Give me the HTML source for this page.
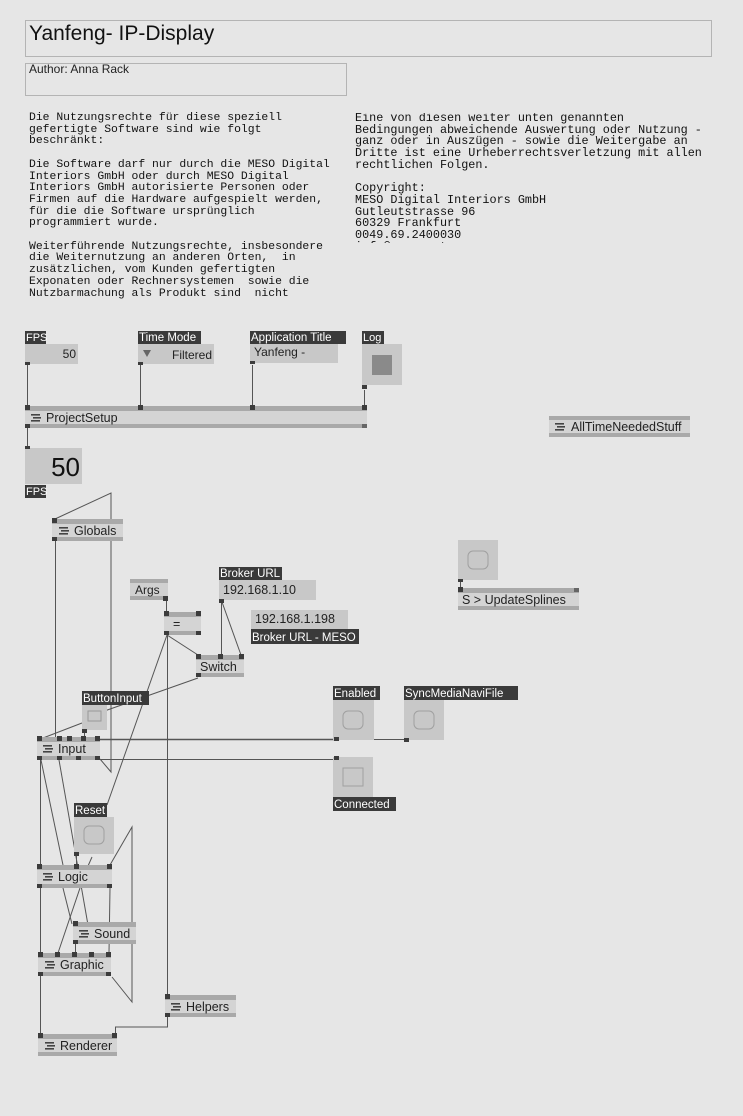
<!DOCTYPE html>
<html><head><meta charset="utf-8"><style>
html,body{margin:0;padding:0;background:#e6e6e6;}
body{width:743px;height:1116px;position:relative;overflow:hidden;font-family:"Liberation Sans",sans-serif;}
pre{position:absolute;margin:0;font-family:"Liberation Mono",monospace;font-size:11.4px;line-height:11.7px;color:#111;}
svg{position:absolute;left:0;top:0;}
</style></head><body>
<svg width="743" height="1116" viewBox="0 0 743 1116" font-family="Liberation Sans, sans-serif">
<defs>
<g id="ic"><rect x="0" y="0" width="9" height="1.6" fill="#444"/><rect x="2" y="3" width="8" height="1.6" fill="#444"/><rect x="0" y="6" width="9" height="1.6" fill="#444"/></g>
</defs>
<!-- title -->
<rect x="25.5" y="20.5" width="686" height="36" fill="#e6e6e6" stroke="#b4b4b4"/>
<text x="29" y="40" font-size="21" fill="#111">Yanfeng- IP-Display</text>
<rect x="25.5" y="63.5" width="321" height="32" fill="#e6e6e6" stroke="#b4b4b4"/>
<text x="29" y="73" font-size="12" fill="#222">Author: Anna Rack</text>

<!-- wires -->
<g stroke="#555" stroke-width="1" fill="none">
<line x1="27.5" y1="365" x2="27.5" y2="406"/>
<line x1="140.5" y1="365" x2="140.5" y2="406"/>
<line x1="252.5" y1="365" x2="252.5" y2="406"/>
<line x1="364.5" y1="390" x2="364.5" y2="406"/>
<line x1="27.5" y1="428" x2="27.5" y2="448"/>
<polyline points="55,519 111,493 111,772 100,759"/>
<line x1="55.5" y1="541" x2="55.5" y2="738"/>
<line x1="166.5" y1="600" x2="166.5" y2="612"/>
<line x1="221.5" y1="600" x2="221.5" y2="655"/>
<line x1="222" y1="602" x2="241" y2="655"/>
<line x1="167" y1="635" x2="198" y2="655"/>
<line x1="167" y1="635" x2="107" y2="805"/>
<line x1="167.5" y1="635" x2="167.5" y2="995"/>
<line x1="198" y1="678" x2="96" y2="714"/>
<line x1="82" y1="723" x2="43" y2="738"/>
<line x1="84.5" y1="730" x2="84.5" y2="737"/>
<line x1="100" y1="739.5" x2="336" y2="739.5" stroke-width="1.5"/>
<line x1="374" y1="739.5" x2="406" y2="739.5"/>
<line x1="100" y1="759.5" x2="336" y2="759.5"/>
<line x1="40.5" y1="760" x2="40.5" y2="865"/>
<line x1="41" y1="760" x2="63" y2="865"/>
<line x1="59" y1="760" x2="88" y2="925"/>
<line x1="63" y1="888" x2="72" y2="924"/>
<line x1="76.5" y1="853" x2="76.5" y2="865"/>
<line x1="92" y1="857" x2="88" y2="866"/>
<polyline points="110,865 132,827 132,1002 112,977"/>
<line x1="110" y1="888" x2="109" y2="953"/>
<line x1="80" y1="888" x2="58" y2="953"/>
<line x1="75.5" y1="944" x2="75.5" y2="953"/>
<line x1="40.5" y1="888" x2="40.5" y2="953"/>
<line x1="40.5" y1="976" x2="40.5" y2="1034"/>
<polyline points="167.5,1017 167.5,1027 115.5,1027 115.5,1034"/>
<line x1="460.5" y1="580" x2="460.5" y2="588"/>
</g>

<!-- IO boxes -->
<g font-size="12">
<rect x="25" y="331" width="21" height="13" fill="#3a3a3a"/><text x="26" y="341" fill="#fff" font-size="11">FPS</text>
<rect x="25" y="344" width="53" height="20" fill="#c8c8c8"/><text x="76" y="358" text-anchor="end" fill="#222">50</text>
<rect x="138" y="331" width="63" height="13" fill="#3a3a3a"/><text x="139" y="341" fill="#fff" font-size="11.5">Time Mode</text>
<rect x="138" y="344" width="76" height="20" fill="#c8c8c8"/><polygon points="143,350 151,350 147,357" fill="#666"/><text x="212" y="359" text-anchor="end" fill="#222">Filtered</text>
<rect x="250" y="331" width="96" height="13" fill="#3a3a3a"/><text x="251" y="341" fill="#fff" font-size="11.5">Application Title</text>
<rect x="250" y="344" width="88" height="19" fill="#c8c8c8"/><text x="254" y="356" fill="#222">Yanfeng -</text>
<rect x="362" y="331" width="22" height="13" fill="#3a3a3a"/><text x="363" y="341" fill="#fff" font-size="11">Log</text>
<rect x="362" y="344" width="40" height="41" fill="#c8c8c8"/><rect x="372" y="355" width="20" height="20" fill="#8a8a8a"/>
<g fill="#3c3c3c"><rect x="25" y="362" width="5" height="3"/><rect x="138" y="362" width="5" height="3"/><rect x="250" y="361" width="5" height="3"/><rect x="362" y="385" width="5" height="4"/></g>

<rect x="25" y="448" width="57" height="36" fill="#c8c8c8"/><text x="80" y="476" text-anchor="end" font-size="26" fill="#111">50</text>
<rect x="25" y="446" width="5" height="3" fill="#3c3c3c"/>
<rect x="25" y="485" width="21" height="13" fill="#3a3a3a"/><text x="26" y="495" fill="#fff" font-size="11">FPS</text>

<rect x="130" y="579" width="38" height="21" fill="#d0d0d0"/><rect x="130" y="579" width="38" height="4" fill="#a9a9a9"/><rect x="130" y="596" width="38" height="4" fill="#a9a9a9"/><text x="135" y="594" fill="#222">Args</text>
<rect x="163" y="596" width="5" height="5" fill="#3c3c3c"/>

<rect x="219" y="567" width="63" height="13" fill="#3a3a3a"/><text x="220" y="577" fill="#fff" font-size="11.5">Broker URL</text>
<rect x="219" y="580" width="97" height="20" fill="#c8c8c8"/><text x="223" y="594" fill="#222" font-size="12.5">192.168.1.10</text>
<rect x="219" y="599" width="5" height="4" fill="#3c3c3c"/>
<rect x="251" y="610" width="97" height="19" fill="#c8c8c8"/><text x="255" y="623" fill="#222" font-size="12.5">192.168.1.198</text>
<rect x="251" y="629" width="108" height="15" fill="#3a3a3a"/><text x="252" y="641" fill="#fff" font-size="11.5">Broker URL - MESO</text>

<rect x="82" y="691" width="67" height="14" fill="#3a3a3a"/><text x="83" y="702" fill="#fff" font-size="11.5">ButtonInput</text>
<rect x="82" y="705" width="25" height="25" fill="#c8c8c8"/><rect x="88" y="711" width="13" height="10" fill="none" stroke="#999"/>
<rect x="82" y="729" width="5" height="4" fill="#3c3c3c"/>

<rect x="333" y="686" width="47" height="14" fill="#3a3a3a"/><text x="334" y="697" fill="#fff" font-size="11.5">Enabled</text>
<rect x="333" y="700" width="41" height="40" fill="#c8c8c8"/><rect x="343" y="711" width="20" height="18" rx="5" fill="none" stroke="#a0a0a0"/>
<rect x="404" y="686" width="114" height="14" fill="#3a3a3a"/><text x="405" y="697" fill="#fff" font-size="11.5">SyncMediaNaviFile</text>
<rect x="404" y="700" width="40" height="40" fill="#c8c8c8"/><rect x="414" y="711" width="20" height="18" rx="5" fill="none" stroke="#a0a0a0"/>
<rect x="333" y="757" width="40" height="40" fill="#c8c8c8"/><rect x="343" y="768" width="20" height="18" fill="none" stroke="#a0a0a0"/>
<rect x="333" y="797" width="63" height="14" fill="#3a3a3a"/><text x="334" y="808" fill="#fff" font-size="11.5">Connected</text>
<g fill="#3c3c3c"><rect x="334" y="737" width="5" height="4"/><rect x="404" y="738" width="5" height="4"/><rect x="334" y="756" width="5" height="4"/></g>

<rect x="458" y="540" width="40" height="40" fill="#c8c8c8"/><rect x="468" y="551" width="20" height="18" rx="5" fill="none" stroke="#a0a0a0"/>
<rect x="458" y="579" width="5" height="3" fill="#3c3c3c"/>

<rect x="74" y="803" width="33" height="14" fill="#3a3a3a"/><text x="75" y="814" fill="#fff" font-size="11.5">Reset</text>
<rect x="74" y="817" width="40" height="37" fill="#c8c8c8"/><rect x="84" y="826" width="20" height="18" rx="5" fill="none" stroke="#a0a0a0"/>
<rect x="74" y="852" width="5" height="4" fill="#3c3c3c"/>
</g>

<!-- nodes -->
<g font-size="12.5" fill="#222">
<rect x="25" y="406" width="342" height="22" fill="#d4d4d4"/><rect x="25" y="406" width="342" height="5" fill="#a9a9a9"/><rect x="25" y="424" width="342" height="4" fill="#a9a9a9"/>
<use href="#ic" x="31" y="414"/><text x="46" y="422">ProjectSetup</text>
<g fill="#3c3c3c"><rect x="25" y="405" width="5" height="5"/><rect x="138" y="405" width="5" height="5"/><rect x="250" y="405" width="5" height="5"/><rect x="362" y="405" width="5" height="5"/><rect x="25" y="424" width="5" height="4"/><rect x="362" y="424" width="5" height="4" fill="#666"/></g>
<rect x="549" y="416" width="141" height="21" fill="#d4d4d4"/><rect x="549" y="416" width="141" height="4" fill="#a9a9a9"/><rect x="549" y="433" width="141" height="4" fill="#a9a9a9"/>
<use href="#ic" x="555" y="423"/><text x="571" y="431">AllTimeNeededStuff</text>
<rect x="52" y="519" width="71" height="22" fill="#d4d4d4"/><rect x="52" y="519" width="71" height="5" fill="#a9a9a9"/><rect x="52" y="537" width="71" height="4" fill="#a9a9a9"/>
<use href="#ic" x="59" y="527"/><text x="74" y="535">Globals</text>
<g fill="#3c3c3c"><rect x="52" y="518" width="5" height="5"/><rect x="52" y="537" width="5" height="4"/></g>
<rect x="164" y="612" width="37" height="23" fill="#d4d4d4"/><rect x="164" y="612" width="37" height="5" fill="#a9a9a9"/><rect x="164" y="631" width="37" height="4" fill="#a9a9a9"/>
<text x="173" y="628">=</text>
<g fill="#3c3c3c"><rect x="164" y="611" width="5" height="5"/><rect x="196" y="611" width="5" height="5"/><rect x="164" y="631" width="5" height="4"/><rect x="196" y="631" width="5" height="4"/></g>
<rect x="196" y="655" width="48" height="22" fill="#d4d4d4"/><rect x="196" y="655" width="48" height="5" fill="#a9a9a9"/><rect x="196" y="673" width="48" height="4" fill="#a9a9a9"/>
<text x="200" y="671">Switch</text>
<g fill="#3c3c3c"><rect x="196" y="654" width="5" height="5"/><rect x="218" y="654" width="5" height="5"/><rect x="239" y="654" width="5" height="5"/><rect x="196" y="673" width="5" height="4"/></g>
<rect x="37" y="737" width="63" height="23" fill="#d4d4d4"/><rect x="37" y="737" width="63" height="5" fill="#a9a9a9"/><rect x="37" y="756" width="63" height="4" fill="#a9a9a9"/>
<use href="#ic" x="43" y="745"/><text x="58" y="753">Input</text>
<g fill="#3c3c3c"><rect x="37" y="736" width="5" height="5"/><rect x="57" y="736" width="5" height="5"/><rect x="67" y="736" width="5" height="5"/><rect x="81" y="736" width="5" height="5"/><rect x="95" y="736" width="5" height="5"/><rect x="37" y="756" width="5" height="4"/><rect x="57" y="756" width="5" height="4"/><rect x="76" y="756" width="5" height="4"/><rect x="95" y="756" width="5" height="4"/></g>
<rect x="37" y="865" width="75" height="23" fill="#d4d4d4"/><rect x="37" y="865" width="75" height="5" fill="#a9a9a9"/><rect x="37" y="884" width="75" height="4" fill="#a9a9a9"/>
<use href="#ic" x="43" y="873"/><text x="58" y="881">Logic</text>
<g fill="#3c3c3c"><rect x="37" y="864" width="5" height="5"/><rect x="74" y="864" width="5" height="5"/><rect x="107" y="864" width="5" height="5"/><rect x="37" y="884" width="5" height="4"/><rect x="107" y="884" width="5" height="4"/></g>
<rect x="73" y="922" width="63" height="22" fill="#d4d4d4"/><rect x="73" y="922" width="63" height="5" fill="#a9a9a9"/><rect x="73" y="940" width="63" height="4" fill="#a9a9a9"/>
<use href="#ic" x="79" y="930"/><text x="94" y="938">Sound</text>
<g fill="#3c3c3c"><rect x="73" y="921" width="5" height="5"/><rect x="73" y="940" width="5" height="4"/></g>
<rect x="38" y="953" width="73" height="23" fill="#d4d4d4"/><rect x="38" y="953" width="73" height="5" fill="#a9a9a9"/><rect x="38" y="972" width="73" height="4" fill="#a9a9a9"/>
<use href="#ic" x="45" y="961"/><text x="60" y="969">Graphic</text>
<g fill="#3c3c3c"><rect x="38" y="952" width="5" height="5"/><rect x="55" y="952" width="5" height="5"/><rect x="72" y="952" width="5" height="5"/><rect x="89" y="952" width="5" height="5"/><rect x="106" y="952" width="5" height="5"/><rect x="38" y="972" width="5" height="4"/><rect x="106" y="972" width="5" height="4"/></g>
<rect x="165" y="995" width="71" height="22" fill="#d4d4d4"/><rect x="165" y="995" width="71" height="5" fill="#a9a9a9"/><rect x="165" y="1013" width="71" height="4" fill="#a9a9a9"/>
<use href="#ic" x="171" y="1003"/><text x="186" y="1011">Helpers</text>
<g fill="#3c3c3c"><rect x="165" y="994" width="5" height="5"/><rect x="165" y="1013" width="5" height="4"/></g>
<rect x="38" y="1034" width="79" height="22" fill="#d4d4d4"/><rect x="38" y="1034" width="79" height="5" fill="#a9a9a9"/><rect x="38" y="1052" width="79" height="4" fill="#a9a9a9"/>
<use href="#ic" x="45" y="1042"/><text x="60" y="1050">Renderer</text>
<g fill="#3c3c3c"><rect x="38" y="1033" width="5" height="5"/><rect x="112" y="1033" width="5" height="5"/></g>
<rect x="458" y="588" width="121" height="22" fill="#d4d4d4"/><rect x="458" y="588" width="121" height="5" fill="#a9a9a9"/><rect x="458" y="606" width="121" height="4" fill="#a9a9a9"/>
<text x="462" y="604">S  &gt;  UpdateSplines</text>
<g fill="#3c3c3c"><rect x="458" y="587" width="5" height="5"/><rect x="574" y="588" width="5" height="4" fill="#666"/></g>
</g>
</svg>
<pre style="left:29px;top:113px;">Die Nutzungsrechte für diese speziell
gefertigte Software sind wie folgt
beschränkt:

Die Software darf nur durch die MESO Digital
Interiors GmbH oder durch MESO Digital
Interiors GmbH autorisierte Personen oder
Firmen auf die Hardware aufgespielt werden,
für die die Software ursprünglich
programmiert wurde.

Weiterführende Nutzungsrechte, insbesondere
die Weiternutzung an anderen Orten,  in
zusätzlichen, vom Kunden gefertigten
Exponaten oder Rechnersystemen  sowie die
Nutzbarmachung als Produkt sind  nicht</pre>
<pre style="left:355px;top:113px;height:130px;overflow:hidden;font-size:11.8px;">Eine von diesen weiter unten genannten
Bedingungen abweichende Auswertung oder Nutzung -
ganz oder in Auszügen - sowie die Weitergabe an
Dritte ist eine Urheberrechtsverletzung mit allen
rechtlichen Folgen.

Copyright:
MESO Digital Interiors GmbH
Gutleutstrasse 96
60329 Frankfurt
0049.69.2400030
info@meso.net</pre>
</body></html>
